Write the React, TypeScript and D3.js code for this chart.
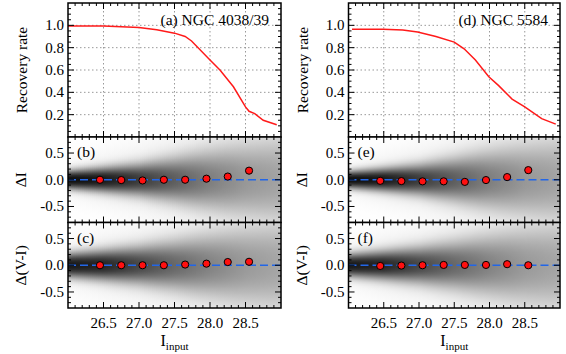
import React from 'react';
import * as d3 from 'd3';

// ---------- data ----------
const recMagA = [26.0, 26.5, 27.0, 27.25, 27.5, 27.65, 27.74, 28.0, 28.14, 28.33, 28.5, 28.55, 28.63, 28.75, 28.94];
const recRateA = [0.995, 0.993, 0.98, 0.96, 0.93, 0.9, 0.86, 0.69, 0.6, 0.45, 0.27, 0.23, 0.21, 0.15, 0.11];
const recMagD = [26.05, 26.49, 26.77, 26.98, 27.24, 27.5, 27.64, 27.8, 27.99, 28.13, 28.32, 28.5, 28.74, 28.94];
const recRateD = [0.964, 0.964, 0.958, 0.94, 0.9, 0.85, 0.79, 0.69, 0.54, 0.46, 0.34, 0.27, 0.165, 0.115];

const binMags = [26.45, 26.75, 27.05, 27.35, 27.65, 27.95, 28.25, 28.55];
const dIA = [0.0, -0.006, -0.013, 0.0, 0.0, 0.02, 0.06, 0.17];
const dVIA = [0.0, 0.0, 0.0, 0.0, 0.013, 0.03, 0.06, 0.065];
const dID = [-0.02, -0.025, -0.03, -0.03, -0.04, -0.006, 0.05, 0.18];
const dVID = [-0.013, -0.006, 0.0, 0.006, 0.006, 0.006, 0.02, 0.0];

// density cloud description (core width, core darkness, halo darkness vs magnitude)
const densMags = [26.0, 26.5, 27.0, 27.5, 28.0, 28.5, 29.0];
const sigmaB = [0.13, 0.17, 0.22, 0.3, 0.4, 0.5, 0.58];
const peakB = [0.93, 0.85, 0.7, 0.55, 0.42, 0.33, 0.28];
const haloB = [0.05, 0.08, 0.09, 0.1, 0.1, 0.09, 0.09];
const sigmaC = [0.17, 0.21, 0.26, 0.33, 0.42, 0.52, 0.6];
const peakC = [0.88, 0.8, 0.65, 0.51, 0.4, 0.32, 0.27];
const haloC = [0.05, 0.08, 0.09, 0.1, 0.1, 0.09, 0.09];
const sigmaE = [0.12, 0.16, 0.21, 0.29, 0.39, 0.49, 0.57];
const peakE = [0.93, 0.85, 0.7, 0.55, 0.42, 0.33, 0.28];
const haloE = [0.05, 0.08, 0.09, 0.1, 0.1, 0.09, 0.09];
const sigmaF = [0.16, 0.2, 0.25, 0.32, 0.41, 0.51, 0.59];
const peakF = [0.88, 0.8, 0.65, 0.51, 0.4, 0.32, 0.27];
const haloF = [0.05, 0.08, 0.09, 0.1, 0.1, 0.09, 0.09];

const xTicks = [26.5, 27.0, 27.5, 28.0, 28.5];
const recTicks = [0.2, 0.4, 0.6, 0.8, 1.0];
const deltaTicks = [-0.5, 0.0, 0.5];

// ---------- layout ----------
const W = 566, H = 354;
const FONT = "'Liberation Serif', 'DejaVu Serif', serif";
const cols = [
  { x0: 68, x1: 281 },
  { x0: 348.5, x1: 560 },
];
const rows = { top: [3, 137], mid: [137, 222.5], bot: [222.5, 308] };

function range(a: number, b: number, s: number) {
  const out: number[] = [];
  for (let v = a; v <= b + 1e-9; v += s) out.push(Math.round(v * 1000) / 1000);
  return out;
}

function TickMarks({ x, y, xMajor, xMinor, yMajor, yMinor }: any) {
  const [xa, xb] = x.range();
  const [yb, ya] = y.range();
  const lines: any[] = [];
  const push = (x1: number, y1: number, x2: number, y2: number, k: string) =>
    lines.push(<line key={k} x1={x1} y1={y1} x2={x2} y2={y2} stroke="#000" strokeWidth={1} />);
  xMajor.forEach((v: number, i: number) => {
    const px = x(v);
    push(px, yb, px, yb - 6, 'xb' + i);
    push(px, ya, px, ya + 6, 'xt' + i);
  });
  xMinor.forEach((v: number, i: number) => {
    const px = x(v);
    push(px, yb, px, yb - 3, 'xbm' + i);
    push(px, ya, px, ya + 3, 'xtm' + i);
  });
  yMajor.forEach((v: number, i: number) => {
    const py = y(v);
    push(xa, py, xa + 6, py, 'yl' + i);
    push(xb, py, xb - 6, py, 'yr' + i);
  });
  yMinor.forEach((v: number, i: number) => {
    const py = y(v);
    push(xa, py, xa + 3, py, 'ylm' + i);
    push(xb, py, xb - 3, py, 'yrm' + i);
  });
  return <g>{lines}</g>;
}

function RecoveryPanel({ col, mags, rates, label }: any) {
  const x = d3.scaleLinear().domain([26, 29]).range([col.x0, col.x1]);
  const y = d3.scaleLinear().domain([0, 1.2]).range([rows.top[1], rows.top[0]]);
  const line = d3.line<number>().x((_, i) => x(mags[i])).y((d) => y(d));
  const xMinor = range(26.1, 28.9, 0.1).filter((v) => Math.abs(Math.round(v * 2) - v * 2) > 1e-6);
  const yMinor = range(0.05, 1.15, 0.05).filter((v) => Math.abs(Math.round(v * 5) - v * 5) > 1e-6);
  return (
    <g>
      {xTicks.map((v) => (
        <line key={'gx' + v} x1={x(v)} x2={x(v)} y1={rows.top[0]} y2={rows.top[1]} stroke="#999" strokeWidth={1} strokeDasharray="1.5,2.5" />
      ))}
      {recTicks.map((v) => (
        <line key={'gy' + v} x1={col.x0} x2={col.x1} y1={y(v)} y2={y(v)} stroke="#999" strokeWidth={1} strokeDasharray="1.5,2.5" />
      ))}
      <path d={line(rates) || ''} fill="none" stroke="#ff1a1a" strokeWidth={1.5} />
      <TickMarks x={x} y={y} xMajor={xTicks} xMinor={xMinor} yMajor={recTicks} yMinor={yMinor} />
      <rect x={col.x0} y={rows.top[0]} width={col.x1 - col.x0} height={rows.top[1] - rows.top[0]} fill="none" stroke="#000" strokeWidth={1.5} />
      {recTicks.map((v) => (
        <text key={'ty' + v} x={col.x0 - 4} y={y(v) + 5} textAnchor="end" fontSize={15} fontFamily={FONT}>{v.toFixed(1)}</text>
      ))}
      <text x={col.x1 - 12} y={rows.top[0] + 22} textAnchor="end" fontSize={15.5} fontFamily={FONT}>{label}</text>
      <text transform={`translate(${col.x0 - 41},${(rows.top[0] + rows.top[1]) / 2}) rotate(-90)`} textAnchor="middle" fontSize={15.5} fontFamily={FONT}>Recovery rate</text>
    </g>
  );
}

function DeltaPanel({ col, row, vals, sigma, peak, halo, label, ylabel, id, showX }: any) {
  const x = d3.scaleLinear().domain([26, 29]).range([col.x0, col.x1]);
  const y = d3.scaleLinear().domain([-0.8, 0.8]).range([row[1], row[0]]);
  const sig = d3.scaleLinear().domain(densMags).range(sigma).clamp(true);
  const pk = d3.scaleLinear().domain(densMags).range(peak).clamp(true);
  const hl = d3.scaleLinear().domain(densMags).range(halo).clamp(true);
  const colW = 2;
  const nCols = Math.ceil((col.x1 - col.x0) / colW);
  const stopsY = range(-0.8, 0.8, 0.04);
  const defs: any[] = [];
  const rects: any[] = [];
  for (let i = 0; i < nCols; i++) {
    const px = col.x0 + i * colW;
    const m = x.invert(px + colW / 2);
    const s = sig(m), p = pk(m), h = hl(m);
    const gid = `${id}-g${i}`;
    defs.push(
      <linearGradient key={gid} id={gid} x1="0" y1="0" x2="0" y2="1">
        {stopsY.slice().reverse().map((yy, j) => {
          const core = p * Math.exp(-0.5 * Math.pow(Math.abs(yy / s), 2.5));
          const hal = h * Math.exp(-0.5 * (yy / (2 * s)) ** 2);
          const dk = Math.min(1, core + hal);
          const g = Math.round(255 * (1 - 0.97 * dk));
          return <stop key={j} offset={j / (stopsY.length - 1)} stopColor={`rgb(${g},${g},${g})`} />;
        })}
      </linearGradient>
    );
    rects.push(<rect key={'r' + i} x={px} y={row[0]} width={Math.min(colW + 0.5, col.x1 - px)} height={row[1] - row[0]} fill={`url(#${gid})`} />);
  }
  const xMinor = range(26.1, 28.9, 0.1).filter((v) => Math.abs(Math.round(v * 2) - v * 2) > 1e-6);
  const yMinor = range(-0.7, 0.7, 0.1).filter((v) => Math.abs(Math.round(v * 2) - v * 2) > 1e-6);
  return (
    <g>
      <defs>{defs}</defs>
      {rects}
      <line x1={col.x0} x2={col.x1} y1={y(0)} y2={y(0)} stroke="#2266e8" strokeWidth={1.6} strokeDasharray="8,4" />
      {binMags.map((m, i) => (
        <circle key={'c' + i} cx={x(m)} cy={y(vals[i])} r={3.6} fill="#ff1010" stroke="#000" strokeWidth={1} />
      ))}
      <TickMarks x={x} y={y} xMajor={xTicks} xMinor={xMinor} yMajor={deltaTicks} yMinor={yMinor} />
      <rect x={col.x0} y={row[0]} width={col.x1 - col.x0} height={row[1] - row[0]} fill="none" stroke="#000" strokeWidth={1.5} />
      {deltaTicks.map((v) => (
        <text key={'ty' + v} x={col.x0 - 4} y={y(v) + 5} textAnchor="end" fontSize={15} fontFamily={FONT}>{v.toFixed(1)}</text>
      ))}
      <text x={col.x0 + 9} y={row[0] + 20} fontSize={15.5} fontFamily={FONT}>{label}</text>
      <text transform={`translate(${col.x0 - 42},${(row[0] + row[1]) / 2}) rotate(-90)`} textAnchor="middle" fontSize={15.5} fontFamily={FONT}>{ylabel}</text>
      {showX && xTicks.map((v) => (
        <text key={'tx' + v} x={x(v)} y={row[1] + 20} textAnchor="middle" fontSize={15} fontFamily={FONT}>{v.toFixed(1)}</text>
      ))}
      {showX && (
        <text x={(col.x0 + col.x1) / 2} y={row[1] + 38} textAnchor="middle" fontSize={16} fontFamily={FONT}>
          I<tspan fontSize={11} dy={4}>input</tspan>
        </text>
      )}
    </g>
  );
}

export default function App() {
  return (
    <svg width={W} height={H} style={{ position: 'absolute', left: 0, top: 0, background: '#fff' }}>
      <rect width={W} height={H} fill="#fff" />
      <RecoveryPanel col={cols[0]} mags={recMagA} rates={recRateA} label="(a) NGC 4038/39" />
      <DeltaPanel col={cols[0]} row={rows.mid} vals={dIA} sigma={sigmaB} peak={peakB} halo={haloB} label="(b)" ylabel="ΔI" id="b" />
      <DeltaPanel col={cols[0]} row={rows.bot} vals={dVIA} sigma={sigmaC} peak={peakC} halo={haloC} label="(c)" ylabel="Δ(V-I)" id="c" showX />
      <RecoveryPanel col={cols[1]} mags={recMagD} rates={recRateD} label="(d) NGC 5584" />
      <DeltaPanel col={cols[1]} row={rows.mid} vals={dID} sigma={sigmaE} peak={peakE} halo={haloE} label="(e)" ylabel="ΔI" id="e" />
      <DeltaPanel col={cols[1]} row={rows.bot} vals={dVID} sigma={sigmaF} peak={peakF} halo={haloF} label="(f)" ylabel="Δ(V-I)" id="f" showX />
    </svg>
  );
}
